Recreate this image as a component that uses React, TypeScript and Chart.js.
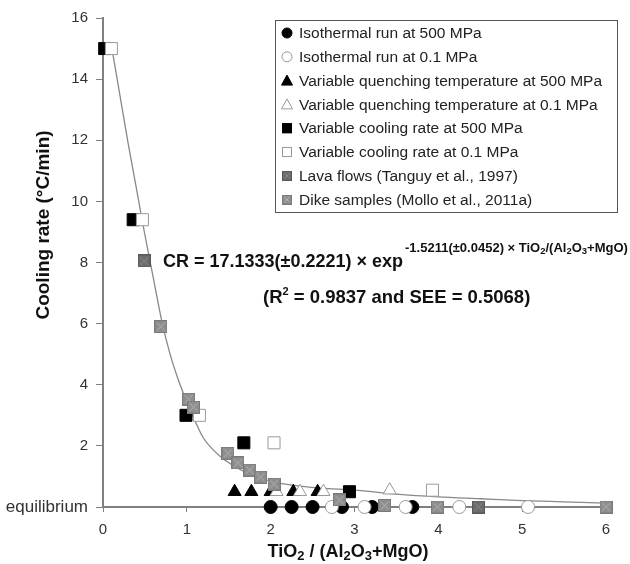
import React, { useEffect, useRef } from "react";
import { Chart, registerables } from "chart.js";
Chart.register(...registerables);

// ---- data ----
const xIso500 = [2.0, 2.25, 2.5, 2.85, 3.21, 3.69];
const yIso500 = [0, 0, 0, 0, 0, 0];
const xIso01 = [2.73, 3.12, 3.61, 4.25, 5.07];
const yIso01 = [0, 0, 0, 0, 0];
const xVq500 = [1.57, 1.77, 2.0, 2.27, 2.56];
const yVq500 = [0.5, 0.5, 0.5, 0.5, 0.5];
const xVq01 = [2.07, 2.35, 2.63, 3.42];
const yVq01 = [0.5, 0.5, 0.5, 0.55];
const xVc500 = [0.02, 0.36, 0.99, 1.68, 2.94];
const yVc500 = [15, 9.4, 3.0, 2.1, 0.5];
const xVc01 = [0.1, 0.47, 1.15, 2.04, 3.93];
const yVc01 = [15, 9.4, 3.0, 2.1, 0.55];
const xLava = [0.49, 4.48];
const yLava = [8.05, 0];
const xDike = [0.69, 1.02, 1.08, 1.49, 1.61, 1.75, 1.88, 2.04, 2.82, 3.36, 3.99, 6.0];
const yDike = [5.9, 3.53, 3.27, 1.76, 1.44, 1.21, 0.98, 0.75, 0.23, 0.05, 0, 0];

// fitted curve
const xCurve = [0.1, 0.2, 0.3, 0.4, 0.5, 0.6, 0.7, 0.8, 0.9, 1.0, 1.1, 1.2, 1.4, 1.6, 1.8, 2.0, 2.3, 2.6, 3.0, 3.5, 4.0, 4.5, 5.0, 5.5, 6.0];
const yCurve = [15.1, 13.5, 11.9, 10.4, 8.9, 7.5, 6.1, 5.0, 4.15, 3.45, 2.8, 2.25, 1.65, 1.28, 1.02, 0.85, 0.7, 0.62, 0.55, 0.42, 0.33, 0.27, 0.21, 0.17, 0.13];

const legendLabels = [
  "Isothermal run at 500 MPa",
  "Isothermal run at 0.1 MPa",
  "Variable quenching temperature at 500 MPa",
  "Variable quenching temperature at 0.1 MPa",
  "Variable cooling rate at 500 MPa",
  "Variable cooling rate at 0.1 MPa",
  "Lava flows (Tanguy et al., 1997)",
  "Dike samples (Mollo et al., 2011a)",
];

const yTickValues = [0, 2, 4, 6, 8, 10, 12, 14, 16];
const yTickLabels = ["equilibrium", "2", "4", "6", "8", "10", "12", "14", "16"];
const xTickValues = [0, 1, 2, 3, 4, 5, 6];
const xTickLabels = ["0", "1", "2", "3", "4", "5", "6"];

const FONT = "'Liberation Sans', Arial, sans-serif";

function pts(xs: number[], ys: number[]) {
  return xs.map((x, i) => ({ x, y: ys[i] }));
}

function makeXSquare(size: number, fill: string, border: string, cross: string) {
  const c = document.createElement("canvas");
  c.width = size;
  c.height = size;
  const g = c.getContext("2d")!;
  g.fillStyle = fill;
  g.fillRect(0, 0, size, size);
  g.strokeStyle = border;
  g.lineWidth = 1;
  g.strokeRect(0.5, 0.5, size - 1, size - 1);
  g.strokeStyle = cross;
  g.lineWidth = 1;
  g.beginPath();
  g.moveTo(2.5, 2.5);
  g.lineTo(size - 2.5, size - 2.5);
  g.moveTo(size - 2.5, 2.5);
  g.lineTo(2.5, size - 2.5);
  g.stroke();
  return c;
}

type Seg = { t: string; size: number; dy: number };
function drawRich(ctx: CanvasRenderingContext2D, segs: Seg[], x: number, y: number) {
  let cx = x;
  for (const s of segs) {
    ctx.font = `bold ${s.size}px ${FONT}`;
    ctx.fillText(s.t, cx, y + s.dy);
    cx += ctx.measureText(s.t).width;
  }
  return cx;
}
function richWidth(ctx: CanvasRenderingContext2D, segs: Seg[]) {
  let w = 0;
  for (const s of segs) {
    ctx.font = `bold ${s.size}px ${FONT}`;
    w += ctx.measureText(s.t).width;
  }
  return w;
}

function drawMarker(ctx: CanvasRenderingContext2D, i: number, x: number, y: number, imgs: HTMLCanvasElement[]) {
  const r = 5;
  ctx.save();
  ctx.lineWidth = 1;
  if (i === 0 || i === 1) {
    ctx.beginPath();
    ctx.arc(x, y, r, 0, Math.PI * 2);
    ctx.fillStyle = i === 0 ? "#000" : "#fff";
    ctx.fill();
    ctx.strokeStyle = i === 0 ? "#000" : "#999";
    ctx.stroke();
  } else if (i === 2 || i === 3) {
    ctx.beginPath();
    ctx.moveTo(x, y - r - 0.5);
    ctx.lineTo(x + r + 0.5, y + r - 0.5);
    ctx.lineTo(x - r - 0.5, y + r - 0.5);
    ctx.closePath();
    ctx.fillStyle = i === 2 ? "#000" : "#fff";
    ctx.fill();
    ctx.strokeStyle = i === 2 ? "#000" : "#999";
    ctx.stroke();
  } else if (i === 4 || i === 5) {
    ctx.fillStyle = i === 4 ? "#000" : "#fff";
    ctx.fillRect(x - r, y - r, 2 * r, 2 * r);
    ctx.strokeStyle = i === 4 ? "#000" : "#999";
    ctx.strokeRect(x - r + 0.5, y - r + 0.5, 2 * r - 1, 2 * r - 1);
  } else {
    const img = imgs[i - 6];
    ctx.drawImage(img, x - r, y - r, 2 * r, 2 * r);
  }
  ctx.restore();
}

export default function App() {
  const ref = useRef<HTMLCanvasElement | null>(null);
  useEffect(() => {
    document.body.style.margin = "0";
    document.body.style.overflow = "hidden";
    const lavaImg = makeXSquare(13, "#6c6c6c", "#585858", "#8a8a8a");
    const dikeImg = makeXSquare(13, "#8e8e8e", "#7a7a7a", "#b4b4b4");
    const lavaLeg = makeXSquare(10, "#6c6c6c", "#585858", "#8a8a8a");
    const dikeLeg = makeXSquare(10, "#8e8e8e", "#7a7a7a", "#b4b4b4");

    const overlay = {
      id: "overlay",
      afterDraw(chart: any) {
        const ctx: CanvasRenderingContext2D = chart.ctx;
        ctx.save();
        ctx.fillStyle = "#111";
        ctx.textBaseline = "alphabetic";
        ctx.textAlign = "left";
        // y title
        ctx.save();
        ctx.translate(49, 225);
        ctx.rotate(-Math.PI / 2);
        ctx.font = `bold 19px ${FONT}`;
        ctx.textAlign = "center";
        ctx.fillText("Cooling rate (°C/min)", 0, 0);
        ctx.restore();
        // x title
        const xt: Seg[] = [
          { t: "TiO", size: 18, dy: 0 },
          { t: "2", size: 13, dy: 3 },
          { t: " / (Al", size: 18, dy: 0 },
          { t: "2", size: 13, dy: 3 },
          { t: "O", size: 18, dy: 0 },
          { t: "3", size: 13, dy: 3 },
          { t: "+MgO)", size: 18, dy: 0 },
        ];
        const w = richWidth(ctx, xt);
        drawRich(ctx, xt, 348 - w / 2, 557);
        // equation
        const e1: Seg[] = [{ t: "CR = 17.1333(±0.2221) × exp", size: 18, dy: 0 }];
        const ex = drawRich(ctx, e1, 163, 267);
        const e2: Seg[] = [
          { t: "-1.5211(±0.0452) × TiO", size: 13, dy: 0 },
          { t: "2", size: 9.5, dy: 2 },
          { t: "/(Al", size: 13, dy: 0 },
          { t: "2", size: 9.5, dy: 2 },
          { t: "O", size: 13, dy: 0 },
          { t: "3", size: 9.5, dy: 2 },
          { t: "+MgO)", size: 13, dy: 0 },
        ];
        drawRich(ctx, e2, ex + 2, 252);
        const e3: Seg[] = [
          { t: "(R", size: 18.5, dy: 0 },
          { t: "2", size: 11, dy: -8 },
          { t: " = 0.9837 and SEE = 0.5068)", size: 18.5, dy: 0 },
        ];
        drawRich(ctx, e3, 263, 303);
        // legend
        ctx.strokeStyle = "#555";
        ctx.lineWidth = 1;
        ctx.fillStyle = "#fff";
        ctx.fillRect(275.5, 20.5, 342, 192);
        ctx.strokeRect(275.5, 20.5, 342, 192);
        for (let i = 0; i < legendLabels.length; i++) {
          const cy = 33 + i * 23.8;
          drawMarker(ctx, i, 287, cy, [lavaLeg, dikeLeg]);
          ctx.fillStyle = "#222";
          ctx.font = `15.5px ${FONT}`;
          ctx.textBaseline = "middle";
          ctx.fillText(legendLabels[i], 299, cy + 1);
        }
        ctx.restore();
      },
    };

    const base = { showLine: false, clip: false as any };
    const chart = new Chart(ref.current!, {
      type: "scatter",
      data: {
        datasets: [
          {
            ...base,
            label: legendLabels[0],
            data: pts(xIso500, yIso500),
            pointStyle: "circle",
            pointRadius: 6.5,
            backgroundColor: "#000",
            borderColor: "#000",
            borderWidth: 1,
            order: 10,
          },
          {
            ...base,
            label: legendLabels[1],
            data: pts(xIso01, yIso01),
            pointStyle: "circle",
            pointRadius: 6.5,
            backgroundColor: "#fff",
            borderColor: "#999",
            borderWidth: 1,
            order: 9,
          },
          {
            ...base,
            label: legendLabels[2],
            data: pts(xVq500, yVq500),
            pointStyle: "triangle",
            pointRadius: 7.5,
            backgroundColor: "#000",
            borderColor: "#000",
            borderWidth: 1,
            order: 8,
          },
          {
            ...base,
            label: legendLabels[3],
            data: pts(xVq01, yVq01),
            pointStyle: "triangle",
            pointRadius: 7.5,
            backgroundColor: "#fff",
            borderColor: "#999",
            borderWidth: 1,
            order: 7,
          },
          {
            ...base,
            label: legendLabels[4],
            data: pts(xVc500, yVc500),
            pointStyle: "rect",
            pointRadius: 8.5,
            backgroundColor: "#000",
            borderColor: "#000",
            borderWidth: 1,
            order: 6,
          },
          {
            ...base,
            label: legendLabels[5],
            data: pts(xVc01, yVc01),
            pointStyle: "rect",
            pointRadius: 8.5,
            backgroundColor: "#fff",
            borderColor: "#999",
            borderWidth: 1,
            order: 5,
          },
          {
            ...base,
            label: legendLabels[6],
            data: pts(xLava, yLava),
            pointStyle: lavaImg as any,
            pointRadius: 7,
            order: 4,
          },
          {
            ...base,
            label: legendLabels[7],
            data: pts(xDike, yDike),
            pointStyle: dikeImg as any,
            pointRadius: 7,
            order: 3,
          },
          {
            label: "fit",
            data: pts(xCurve, yCurve),
            showLine: true,
            pointRadius: 0,
            borderColor: "#888",
            borderWidth: 1.3,
            cubicInterpolationMode: "monotone",
            order: 100,
          } as any,
        ],
      },
      options: {
        animation: false,
        responsive: false,
        maintainAspectRatio: false,
        layout: { padding: { left: 0, right: 24, top: 18, bottom: 0 } },
        plugins: { legend: { display: false }, tooltip: { enabled: false } },
        scales: {
          x: {
            type: "linear",
            min: 0,
            max: 6,
            afterFit: (s: any) => {
              s.height = 57;
            },
            afterBuildTicks: (s: any) => {
              s.ticks = xTickValues.map((v) => ({ value: v }));
            },
            ticks: {
              padding: 9,
              color: "#333",
              font: { family: FONT, size: 15 },
              callback: (v: any) => xTickLabels[xTickValues.indexOf(Number(v))] ?? "",
            },
            grid: { display: true, drawOnChartArea: false, drawTicks: true, tickLength: 5, color: "#808080", lineWidth: 1 },
            border: { display: true, color: "#808080", width: 2 },
          },
          y: {
            type: "linear",
            min: 0,
            max: 16,
            afterFit: (s: any) => {
              s.width = 103;
            },
            afterBuildTicks: (s: any) => {
              s.ticks = yTickValues.map((v) => ({ value: v }));
            },
            ticks: {
              padding: 8,
              color: "#333",
              font: (c: any) => ({ family: FONT, size: c.tick && c.tick.value === 0 ? 17 : 15 }),
              callback: (v: any) => yTickLabels[yTickValues.indexOf(Number(v))] ?? "",
            },
            grid: { display: true, drawOnChartArea: false, drawTicks: true, tickLength: 7, color: "#808080", lineWidth: 1 },
            border: { display: true, color: "#808080", width: 2 },
          },
        },
      },
      plugins: [overlay],
    });
    return () => chart.destroy();
  }, []);
  return <canvas ref={ref} width={630} height={564} style={{ display: "block" }} />;
}
